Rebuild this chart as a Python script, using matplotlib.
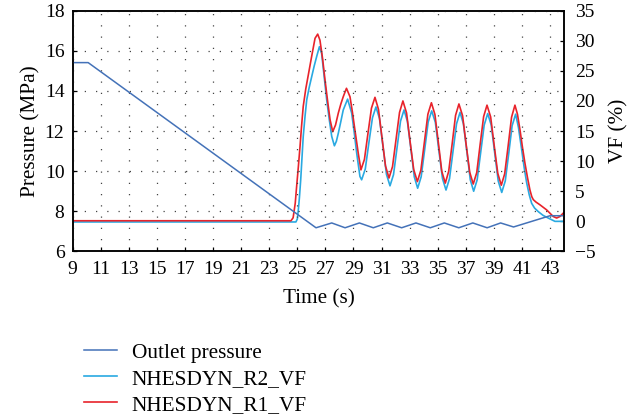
import matplotlib
matplotlib.use("Agg")
import matplotlib.pyplot as plt
from matplotlib.lines import Line2D

plt.rcParams["font.family"] = ["Liberation Serif", "DejaVu Serif"]

# Outlet pressure (MPa, left axis)
time_outlet = [9.0, 10.1, 26.33, 27.45, 28.4, 29.42, 30.41, 31.41, 32.43,
               33.45, 34.47, 35.47, 36.5, 37.5, 38.52, 39.48, 40.4, 43.0, 44.0]
p_outlet = [15.41, 15.41, 7.18, 7.42, 7.18, 7.42, 7.18, 7.42, 7.18,
            7.42, 7.18, 7.42, 7.18, 7.42, 7.18, 7.42, 7.22, 7.78, 7.78]

# NHESDYN_R1_VF (%, right axis)
time_r1 = [9.0, 24.55, 24.7, 24.85, 24.95, 25.07, 25.19, 25.3, 25.42, 25.6,
           25.78, 26.02, 26.26, 26.45, 26.61, 26.8, 26.97, 27.15, 27.33, 27.52,
           27.72, 27.92, 28.1, 28.27, 28.5, 28.75, 28.92, 29.1, 29.34, 29.53,
           29.78, 30.03, 30.28, 30.53, 30.78, 31.03, 31.28, 31.53,
           31.78, 32.03, 32.28, 32.52, 32.78, 33.03, 33.29, 33.55,
           33.8, 34.05, 34.3, 34.55, 34.8, 35.05, 35.29, 35.54,
           35.78, 36.03, 36.27, 36.51, 36.77, 37.02, 37.28, 37.53,
           37.78, 38.02, 38.27, 38.51, 38.77, 39.02, 39.28, 39.53,
           39.77, 40.02, 40.26, 40.5, 40.68, 40.86, 41.03, 41.21, 41.4, 41.57,
           41.7, 41.81, 42.0, 42.28, 42.76, 43.23, 43.47, 43.7, 44.0]
vf_r1 = [0.1, 0.1, 0.6, 3.0, 5.8, 9.0, 12.4, 15.8, 19.1, 22.0,
         24.3, 27.4, 30.4, 31.1, 30.1, 27.0, 23.5, 20.1, 16.9, 14.9,
         16.0, 18.0, 19.5, 20.7, 22.1, 20.7, 18.2, 15.2, 11.3, 8.55,
         10.3, 14.6, 18.8, 20.6, 18.6, 13.9, 9.2, 7.2,
         9.1, 13.6, 18.1, 20.0, 18.0, 13.3, 8.6, 6.6,
         8.5, 13.15, 17.8, 19.7, 17.75, 13.0, 8.3, 6.35,
         8.3, 12.9, 17.6, 19.5, 17.55, 12.85, 8.15, 6.2,
         8.1, 12.75, 17.4, 19.3, 17.35, 12.65, 7.95, 6.0,
         7.9, 12.6, 17.3, 19.3, 17.8, 15.2, 12.4, 9.7, 7.2, 5.2,
         4.1, 3.6, 3.2, 2.75, 1.9, 0.8, 0.55, 0.8, 1.5]

# NHESDYN_R2_VF (%, right axis)
time_r2 = [9.0, 24.9, 25.0, 25.07, 25.15, 25.24, 25.33, 25.42, 25.55, 25.67,
           25.85, 26.02, 26.2, 26.38, 26.57, 26.73, 26.9, 27.09, 27.27, 27.45,
           27.64, 27.78, 27.92, 28.1, 28.27, 28.58, 28.87, 29.05, 29.23, 29.46,
           29.58, 29.84, 30.09, 30.35, 30.6, 30.85, 31.1, 31.35, 31.6,
           31.85, 32.1, 32.35, 32.6, 32.84, 33.09, 33.33, 33.57,
           33.82, 34.07, 34.32, 34.57, 34.83, 35.08, 35.34, 35.59,
           35.84, 36.09, 36.34, 36.59, 36.83, 37.08, 37.32, 37.56,
           37.81, 38.06, 38.31, 38.56, 38.81, 39.06, 39.31, 39.56,
           39.81, 40.06, 40.3, 40.55, 40.75, 40.98, 41.16, 41.34, 41.52,
           41.69, 41.9, 42.17, 42.5, 42.87, 43.35, 44.0]
vf_r2 = [-0.1, -0.1, 0.4, 1.9, 4.0, 6.9, 10.5, 14.1, 17.5, 20.2,
         22.3, 24.0, 25.8, 27.4, 29.0, 27.9, 24.3, 20.2, 17.0, 14.1,
         12.55, 13.3, 14.65, 16.6, 18.5, 20.3, 18.0, 14.8, 11.3, 7.45,
         6.9, 8.7, 12.95, 17.2, 19.0, 17.1, 12.45, 7.8, 5.9,
         7.75, 12.2, 16.65, 18.5, 16.6, 12.0, 7.4, 5.5,
         7.4, 11.9, 16.5, 18.35, 16.45, 11.8, 7.1, 5.2,
         7.1, 11.65, 16.2, 18.1, 16.2, 11.55, 6.9, 5.0,
         6.9, 11.45, 16.0, 17.9, 16.0, 11.35, 6.7, 4.8,
         6.7, 11.3, 15.9, 17.8, 15.6, 11.9, 8.9, 6.35, 4.4,
         3.0, 2.2, 1.6, 1.0, 0.55, 0.0, 0.0]

x_ticks = list(range(9, 44, 2))
p_ticks = list(range(6, 19, 2))
vf_ticks = list(range(-5, 36, 5))

c_outlet = "#4472b8"
c_r2 = "#29a9e1"
c_r1 = "#e8232b"
fontsize = 15.3

fig = plt.figure(figsize=(6.34, 4.17), dpi=100)
ax = fig.add_axes([0.1147, 0.397, 0.775, 0.5775])
ax2 = ax.twinx()

ax2.plot(time_r2, vf_r2, color=c_r2, lw=1.2)
ax2.plot(time_r1, vf_r1, color=c_r1, lw=1.2)
ax.plot(time_outlet, p_outlet, color=c_outlet, lw=1.1)
ax.set_zorder(ax2.get_zorder() + 1)
ax.patch.set_visible(False)

ax.set_xlim(9, 44)
ax.set_ylim(6, 18)
ax2.set_ylim(-5, 35)
ax.set_xticks(x_ticks)
ax.set_yticks(p_ticks)
ax2.set_yticks(vf_ticks)
ax.grid(True, color="#444444", lw=0.9, ls=(0, (1, 8)))

ax.tick_params(direction="in", length=3, width=0.9, labelsize=14, pad=6,
               colors="black")
ax.tick_params(axis="x", pad=7)
ax2.tick_params(direction="in", length=3, width=0.9, labelsize=14, pad=8)
for sp in list(ax.spines.values()) + list(ax2.spines.values()):
    sp.set_linewidth(1.1)
    sp.set_color("black")

ax.set_xlabel("Time (s)", fontsize=fontsize, labelpad=8)
ax.set_ylabel("Pressure (MPa)", fontsize=fontsize, labelpad=3)
ax2.set_ylabel("VF (%)", fontsize=fontsize, labelpad=10)

handles = [Line2D([], [], color=c_outlet, lw=1.1),
           Line2D([], [], color=c_r2, lw=1.2),
           Line2D([], [], color=c_r1, lw=1.2)]
labels = ["Outlet pressure", "NHESDYN_R2_VF", "NHESDYN_R1_VF"]
fig.legend(handles, labels, loc="upper left", bbox_to_anchor=(0.1325, 0.178),
           frameon=False, fontsize=fontsize, handlelength=1.55,
           handletextpad=0.7, labelspacing=0.29, borderpad=0,
           borderaxespad=0)

fig.savefig("out.png", dpi=100)
